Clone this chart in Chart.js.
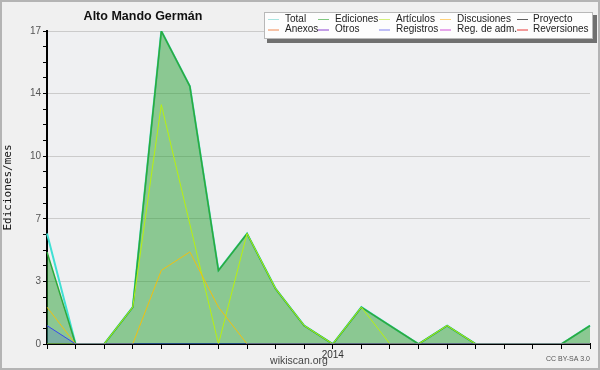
<!DOCTYPE html>
<html lang="es">
<head>
  <meta charset="UTF-8" />
  <title>Alto Mando Germán</title>
  <script src="https://cdn.jsdelivr.net/npm/chart.js"></script>
  <style>
    body { margin: 0; background: #f0f0f0; }
    #wrap { width: 600px; height: 370px; position: relative; }
  </style>
</head>
<body>
  <div id="wrap"><canvas id="chart" width="600" height="370"></canvas></div>

  <script>
    // monthly buckets, Mar 2013 .. Oct 2014
    const months = ['2013-03', '2013-04', '2013-05', '2013-06', '2013-07', '2013-08', '2013-09', '2013-10',
      '2013-11', '2013-12', '2014-01', '2014-02', '2014-03', '2014-04', '2014-05', '2014-06',
      '2014-07', '2014-08', '2014-09', '2014-10'];
    const total = [6, 0, 0, 2, 17, 14, 4, 6, 3, 1, 0, 2, 1, 0, 1, 0, 0, 0, 0, 1];
    const ediciones = [5, 0, 0, 2, 17, 14, 4, 6, 3, 1, 0, 2, 1, 0, 1, 0, 0, 0, 0, 1];
    const articulos = [0, 0, 0, 2, 13, 6.5, 0, 6, 3, 1, 0, 2, 0, 0, 1, 0, 0, 0, 0, 0];
    const discusiones = [2, 0, 0, 0, 4, 5, 2, 0, 0, 0, 0, 0, 0, 0, 0, 0, 0, 0, 0, 0];
    const registros = [1, 0, 0, 0, 0, 0, 0, 0, 0, 0, 0, 0, 0, 0, 0, 0, 0, 0, 0, 0];

    // legend entries (two rows of five)
    const legendNames = ['Total', 'Ediciones', 'Artículos', 'Discusiones', 'Proyecto',
      'Anexos', 'Otros', 'Registros', 'Reg. de adm.', 'Reversiones'];
    const legendColors = ['#a8e4e0', '#80c880', '#d4f07c', '#ffd27a', '#606060',
      '#f08850', '#8a40d0', '#8080f0', '#d050d8', '#e83838'];

    const yMax = 17;
    const minorStep = yMax / 20;

    const decor = {
      id: 'decor',
      beforeDraw(chart) {
        const { ctx, chartArea: a } = chart;
        ctx.save();
        ctx.fillStyle = '#f0f0f0';
        ctx.fillRect(0, 0, chart.width, chart.height);
        ctx.strokeStyle = '#b4b4b4';
        ctx.lineWidth = 2;
        ctx.strokeRect(1, 1, chart.width - 2, chart.height - 2);
        ctx.fillStyle = '#eff0f2';
        ctx.fillRect(a.left, a.top, a.right - a.left, a.bottom - a.top);
        ctx.restore();
      },
      afterDraw(chart) {
        const ctx = chart.ctx;
        ctx.save();
        // title
        ctx.fillStyle = '#111';
        ctx.font = 'bold 12.5px "Liberation Sans", Arial, sans-serif';
        ctx.textAlign = 'center';
        ctx.textBaseline = 'middle';
        ctx.fillText('Alto Mando Germán', 143, 17);

        // legend box with shadow
        ctx.fillStyle = '#707070';
        ctx.fillRect(267, 15, 330, 28);
        ctx.fillStyle = '#fdfdfd';
        ctx.fillRect(264, 12, 329, 27);
        ctx.strokeStyle = '#b8b8b8';
        ctx.lineWidth = 1;
        ctx.strokeRect(264.5, 12.5, 328, 26);
        const swX = [268, 318, 379, 440, 517];
        const txX = [285, 335, 396, 457, 533];
        ctx.font = '10px "Liberation Sans", Arial, sans-serif';
        ctx.textAlign = 'left';
        legendNames.forEach((name, i) => {
          const col = i % 5, row = Math.floor(i / 5);
          const y = row === 0 ? 19 : 29.5;
          ctx.strokeStyle = legendColors[i];
          ctx.beginPath();
          ctx.moveTo(swX[col], y + 0.5);
          ctx.lineTo(swX[col] + 11, y + 0.5);
          ctx.stroke();
          ctx.fillStyle = '#222';
          ctx.fillText(name, txX[col], y);
        });

        // footers
        ctx.fillStyle = '#444';
        ctx.font = '10.5px "Liberation Sans", Arial, sans-serif';
        ctx.textAlign = 'center';
        ctx.fillText('wikiscan.org', 299, 361);
        ctx.fillStyle = '#555';
        ctx.font = '7px "Liberation Sans", Arial, sans-serif';
        ctx.textAlign = 'right';
        ctx.fillText('CC BY-SA 3.0', 590, 359);
        ctx.restore();
      }
    };

    function line(label, data, color, order, width) {
      return {
        label, data, borderColor: color, borderWidth: width || 1,
        pointRadius: 0, tension: 0, fill: false, order
      };
    }

    const edDs = line('Ediciones', ediciones, '#2eaa3c', 4, 1.5);
    edDs.fill = 'origin';
    edDs.backgroundColor = 'rgba(40,160,50,0.5)';
    const regDs = line('Registros', registros, '#3848f0', 1);
    regDs.fill = 'origin';
    regDs.backgroundColor = 'rgba(60,80,240,0.2)';

    new Chart(document.getElementById('chart'), {
      type: 'line',
      data: {
        labels: months,
        datasets: [
          line('Total', total, '#40e0d4', 5, 2),
          edDs,
          line('Artículos', articulos, '#b8f010', 3),
          line('Discusiones', discusiones, '#f0c010', 2),
          regDs
        ]
      },
      options: {
        responsive: false,
        animation: false,
        events: [],
        layout: { padding: { left: 0, right: 10, top: 31, bottom: 0 } },
        plugins: { legend: { display: false }, tooltip: { enabled: false } },
        scales: {
          x: {
            z: 1,
            offset: false,
            border: { color: '#000', width: 2 },
            grid: { drawOnChartArea: false, color: '#000', tickLength: 5, tickWidth: 1 },
            ticks: {
              autoSkip: false, maxRotation: 0, padding: 0,
              color: '#333', font: { size: 10, family: '"Liberation Sans", Arial, sans-serif' },
              callback: (v, i) => months[i] === '2014-01' ? '2014' : ''
            },
            afterFit: s => { s.height = 26; }
          },
          y: {
            min: 0, max: yMax,
            border: { color: '#000', width: 2 },
            grid: {
              color: c => (c.index % 4 === 0 && c.index > 0) ? '#cbcbcb' : 'rgba(0,0,0,0)',
              tickColor: '#000', tickLength: 4
            },
            ticks: {
              stepSize: minorStep, autoSkip: false, padding: 2,
              color: '#555', font: { size: 10, family: '"Liberation Sans", Arial, sans-serif' },
              callback: (v, i) => i % 4 === 0 ? String(Math.round(v)) : ''
            },
            title: {
              display: true, text: 'Ediciones/mes', color: '#111',
              font: { size: 11, family: '"DejaVu Sans Mono", monospace' },
              padding: { top: 2, bottom: 0 }
            },
            afterFit: s => { s.width = 47; }
          }
        }
      },
      plugins: [decor]
    });
  </script>
</body>
</html>
